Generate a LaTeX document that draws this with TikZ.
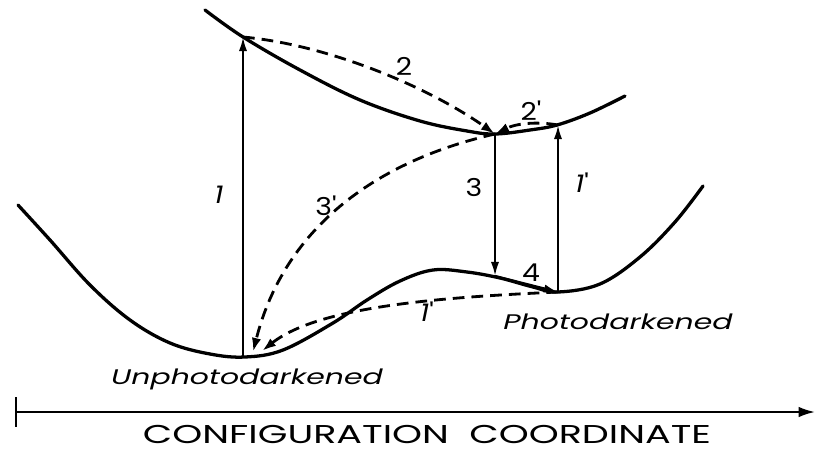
\documentclass[tikz,border=0pt]{standalone}
\usepackage{fontspec}
\setmainfont{Poppins}
\usetikzlibrary{arrows.meta}

\begin{document}
\begin{tikzpicture}
  [x=0.03cm, y=-0.03cm,
   curve line/.style={line width=2.8pt, line cap=round},
   solid arrow/.style={line width=1.9pt, -{Latex[length=12pt,width=7pt]}},
   dash arrow/.style={line width=2.4pt, dash pattern=on 10pt off 6pt, -{Latex[length=12pt,width=8pt]}},
   num label/.style={font=\fontsize{21}{21}\selectfont, inner sep=0pt, xscale=1.15},
   state label/.style={font=\fontsize{18}{18}\selectfont\itshape, inner sep=0pt, xscale=1.42}]

\useasboundingbox (0,0) rectangle (818,452);

% potential curves
\draw[curve line] plot[smooth, tension=0.6] coordinates {(205,10) (243,37) (300,70) (360,100) (420,121) (467,131) (495,134) (530,130) (557,125) (590,113) (625,96)};
\draw[curve line] plot[smooth, tension=0.6] coordinates {(18,205) (50,240) (90,285) (130,320) (170,343) (210,354) (245,357) (283,350) (333,323) (367,300) (400,281) (433,270) (467,272) (500,278) (533,287) (558,292) (600,284) (640,257) (675,222) (703,186)};

\coordinate (low min) at (243,357);
\coordinate (up left) at (243,37);
\coordinate (up min) at (495,134);
\coordinate (up right) at (558,125);
\coordinate (low hump) at (495,276);
\coordinate (low min2) at (558,292);
\coordinate (end a) at (253,352);
\coordinate (end b) at (262,351);

% transitions
\draw[solid arrow] (low min) -- (up left);
\draw[dash arrow] (up left) .. controls (330,45) and (430,88) .. (up min);
\draw[dash arrow] (up right) .. controls (535,121) and (515,124) .. (up min);
\draw[solid arrow] (low min2) -- (up right);
\draw[solid arrow] (up min) -- (low hump);
\draw[solid arrow] (low hump) -- (low min2);
\draw[dash arrow] (up min) .. controls (380,160) and (285,225) .. (end a);
\draw[dash arrow] (low min2) .. controls (450,297) and (320,305) .. (end b);

\node[num label] (n1) at (219,195) {\textit{1}};
\node[num label] (n2) at (404,66) {2};
\node[num label] (n2p) at (531,111) {2\textquotesingle};
\node[num label] (n1p) at (582,183) {\textit{1}\textquotesingle};
\node[num label] (n3) at (474,187) {3};
\node[num label] (n3p) at (326,206) {3\textquotesingle};
\node[num label] (n4) at (531,273) {4};
\node[num label] (n1pp) at (427,312) {\textit{1}\textquotesingle};

\node[state label] (unph) at (247,379) {Unphotodarkened};
\node[state label] (ph) at (618,322) {Photodarkened};

% axis
\coordinate (ax start) at (15,412);
\coordinate (ax end) at (815,412);
\draw[line width=1.8pt, {Bar[width=25pt]}-{Latex[length=14pt,width=9pt]}] (ax start) -- (ax end);
\node[font=\fontsize{22}{22}\selectfont, inner sep=0pt, xscale=1.48] (axis title) at (427,434) {CONFIGURATION\ \ COORDINATE};

\end{tikzpicture}
\end{document}
